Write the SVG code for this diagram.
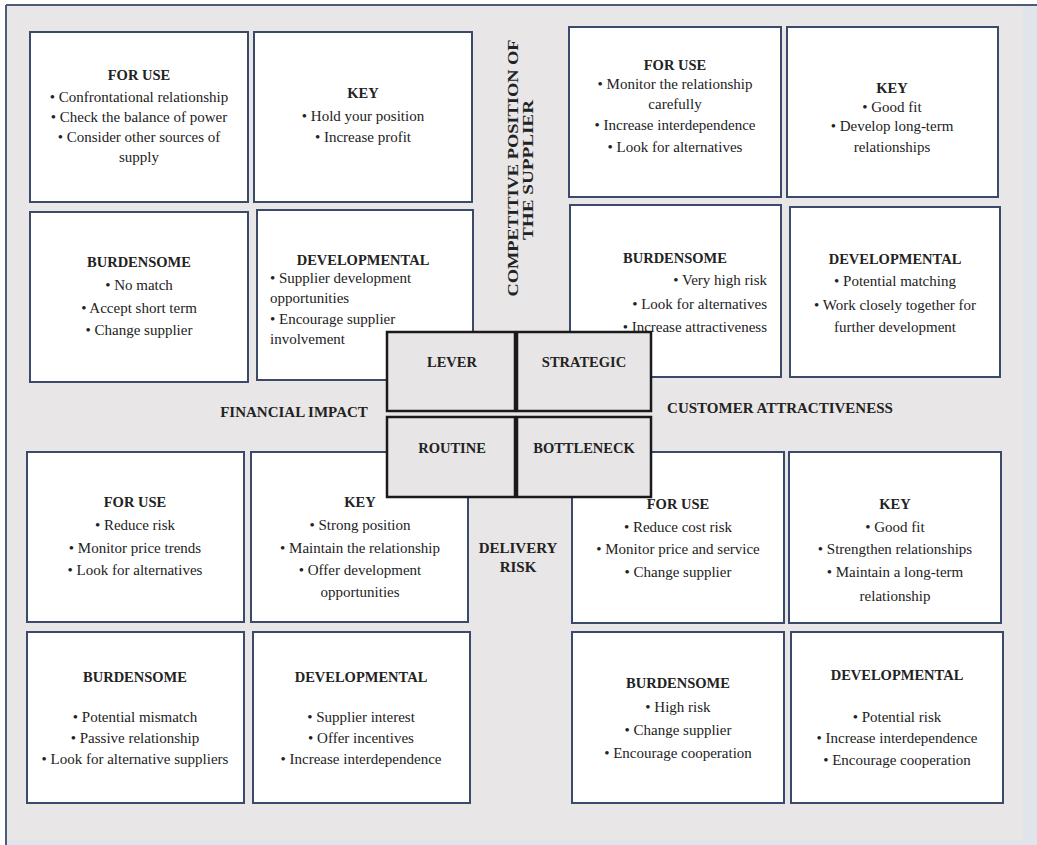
<svg xmlns="http://www.w3.org/2000/svg" width="1037" height="845" viewBox="0 0 1037 845">
<style>
.box{fill:#ffffff;stroke:#3b4a6b;stroke-width:2}
.core{fill:#e7e5e5;stroke:#1a1a1a;stroke-width:2.5}
text{font-family:"Liberation Serif","Times New Roman",serif;fill:#222222}
.t{font-size:14.5px;font-weight:bold;text-anchor:middle}
.b{font-size:15px;text-anchor:middle}
.l{font-size:15px;text-anchor:start}
.r{font-size:15px;text-anchor:end}
.ax{font-size:15px;font-weight:bold;text-anchor:middle}
.vx{font-size:14.5px;font-weight:bold;text-anchor:middle}
</style>
<rect x="0" y="0" width="1037" height="845" fill="#ffffff"/>
<rect x="7" y="6" width="1030" height="839" fill="#e0e5ec"/>
<rect x="7" y="6" width="1016" height="834" fill="#e8e6e6"/>
<line x1="6" y1="5" x2="1037" y2="5" stroke="#4d5b78" stroke-width="2"/>
<line x1="6" y1="5" x2="6" y2="845" stroke="#4d5b78" stroke-width="2"/>

<g id="tl-foruse"><rect class="box" x="30" y="32" width="218" height="170"/>
<text class="t" x="139" y="80">FOR USE</text>
<text class="b" x="139" y="102">• Confrontational relationship</text>
<text class="b" x="139" y="122">• Check the balance of power</text>
<text class="b" x="139" y="142">• Consider other sources of</text>
<text class="b" x="139" y="162">supply</text></g>

<g id="tl-key"><rect class="box" x="254" y="32" width="218" height="170"/>
<text class="t" x="363" y="98">KEY</text>
<text class="b" x="363" y="121">• Hold your position</text>
<text class="b" x="363" y="142">• Increase profit</text></g>

<g id="tl-burdensome"><rect class="box" x="30" y="212" width="218" height="170"/>
<text class="t" x="139" y="267">BURDENSOME</text>
<text class="b" x="139" y="290">• No match</text>
<text class="b" x="139" y="313">• Accept short term</text>
<text class="b" x="139" y="335">• Change supplier</text></g>

<g id="tl-developmental"><rect class="box" x="257" y="210" width="216" height="170"/>
<text class="t" x="363" y="265">DEVELOPMENTAL</text>
<text class="l" x="270" y="283">• Supplier development</text>
<text class="l" x="270" y="303">opportunities</text>
<text class="l" x="270" y="324">• Encourage supplier</text>
<text class="l" x="270" y="344">involvement</text></g>

<g id="tr-foruse"><rect class="box" x="569" y="27" width="212" height="170"/>
<text class="t" x="675" y="70">FOR USE</text>
<text class="b" x="675" y="89">• Monitor the relationship</text>
<text class="b" x="675" y="109">carefully</text>
<text class="b" x="675" y="130">• Increase interdependence</text>
<text class="b" x="675" y="152">• Look for alternatives</text></g>

<g id="tr-key"><rect class="box" x="787" y="27" width="211" height="170"/>
<text class="t" x="892" y="93">KEY</text>
<text class="b" x="892" y="112">• Good fit</text>
<text class="b" x="892" y="131">• Develop long-term</text>
<text class="b" x="892" y="152">relationships</text></g>

<g id="tr-burdensome"><rect class="box" x="570" y="205" width="211" height="172"/>
<text class="t" x="675" y="263">BURDENSOME</text>
<text class="r" x="767" y="285">• Very high risk</text>
<text class="r" x="767" y="309">• Look for alternatives</text>
<text class="r" x="767" y="332">• Increase attractiveness</text></g>

<g id="tr-developmental"><rect class="box" x="790" y="207" width="210" height="170"/>
<text class="t" x="895" y="264">DEVELOPMENTAL</text>
<text class="b" x="895" y="286">• Potential matching</text>
<text class="b" x="895" y="310">• Work closely together for</text>
<text class="b" x="895" y="332">further development</text></g>

<g id="bl-foruse"><rect class="box" x="27" y="452" width="217" height="170"/>
<text class="t" x="135" y="507">FOR USE</text>
<text class="b" x="135" y="530">• Reduce risk</text>
<text class="b" x="135" y="553">• Monitor price trends</text>
<text class="b" x="135" y="575">• Look for alternatives</text></g>

<g id="bl-key"><rect class="box" x="251" y="452" width="217" height="170"/>
<text class="t" x="360" y="507">KEY</text>
<text class="b" x="360" y="530">• Strong position</text>
<text class="b" x="360" y="553">• Maintain the relationship</text>
<text class="b" x="360" y="575">• Offer development</text>
<text class="b" x="360" y="597">opportunities</text></g>

<g id="bl-burdensome"><rect class="box" x="27" y="632" width="217" height="171"/>
<text class="t" x="135" y="682">BURDENSOME</text>
<text class="b" x="135" y="722">• Potential mismatch</text>
<text class="b" x="135" y="743">• Passive relationship</text>
<text class="b" x="135" y="764">• Look for alternative suppliers</text></g>

<g id="bl-developmental"><rect class="box" x="253" y="632" width="217" height="171"/>
<text class="t" x="361" y="682">DEVELOPMENTAL</text>
<text class="b" x="361" y="722">• Supplier interest</text>
<text class="b" x="361" y="743">• Offer incentives</text>
<text class="b" x="361" y="764">• Increase interdependence</text></g>

<g id="br-foruse"><rect class="box" x="572" y="452" width="212" height="171"/>
<text class="t" x="678" y="509">FOR USE</text>
<text class="b" x="678" y="532">• Reduce cost risk</text>
<text class="b" x="678" y="554">• Monitor price and service</text>
<text class="b" x="678" y="577">• Change supplier</text></g>

<g id="br-key"><rect class="box" x="789" y="452" width="212" height="171"/>
<text class="t" x="895" y="509">KEY</text>
<text class="b" x="895" y="532">• Good fit</text>
<text class="b" x="895" y="554">• Strengthen relationships</text>
<text class="b" x="895" y="577">• Maintain a long-term</text>
<text class="b" x="895" y="601">relationship</text></g>

<g id="br-burdensome"><rect class="box" x="572" y="632" width="212" height="171"/>
<text class="t" x="678" y="688">BURDENSOME</text>
<text class="b" x="678" y="712">• High risk</text>
<text class="b" x="678" y="735">• Change supplier</text>
<text class="b" x="678" y="758">• Encourage cooperation</text></g>

<g id="br-developmental"><rect class="box" x="791" y="632" width="212" height="171"/>
<text class="t" x="897" y="680">DEVELOPMENTAL</text>
<text class="b" x="897" y="722">• Potential risk</text>
<text class="b" x="897" y="743">• Increase interdependence</text>
<text class="b" x="897" y="765">• Encourage cooperation</text></g>

<g id="lever"><rect class="core" x="387" y="332" width="128" height="79"/>
<text class="t" x="452" y="367">LEVER</text></g>
<g id="strategic"><rect class="core" x="517" y="332" width="134" height="79"/>
<text class="t" x="584" y="367">STRATEGIC</text></g>
<g id="routine"><rect class="core" x="387" y="417" width="128" height="80"/>
<text class="t" x="452" y="453">ROUTINE</text></g>
<g id="bottleneck"><rect class="core" x="517" y="417" width="134" height="80"/>
<text class="t" x="584" y="453">BOTTLENECK</text></g>

<g id="axis-labels">
<text class="vx" transform="translate(518,168) rotate(-90)" textLength="257" lengthAdjust="spacingAndGlyphs" x="0" y="0">COMPETITIVE POSITION OF</text>
<text class="vx" transform="translate(533,170) rotate(-90)" textLength="140" lengthAdjust="spacingAndGlyphs" x="0" y="0">THE SUPPLIER</text>
<text class="ax" x="294" y="417">FINANCIAL IMPACT</text>
<text class="ax" x="780" y="413">CUSTOMER ATTRACTIVENESS</text>
<text class="ax" x="518" y="553">DELIVERY</text>
<text class="ax" x="518" y="572">RISK</text>
</g>
<g id="connectors"></g>
</svg>
